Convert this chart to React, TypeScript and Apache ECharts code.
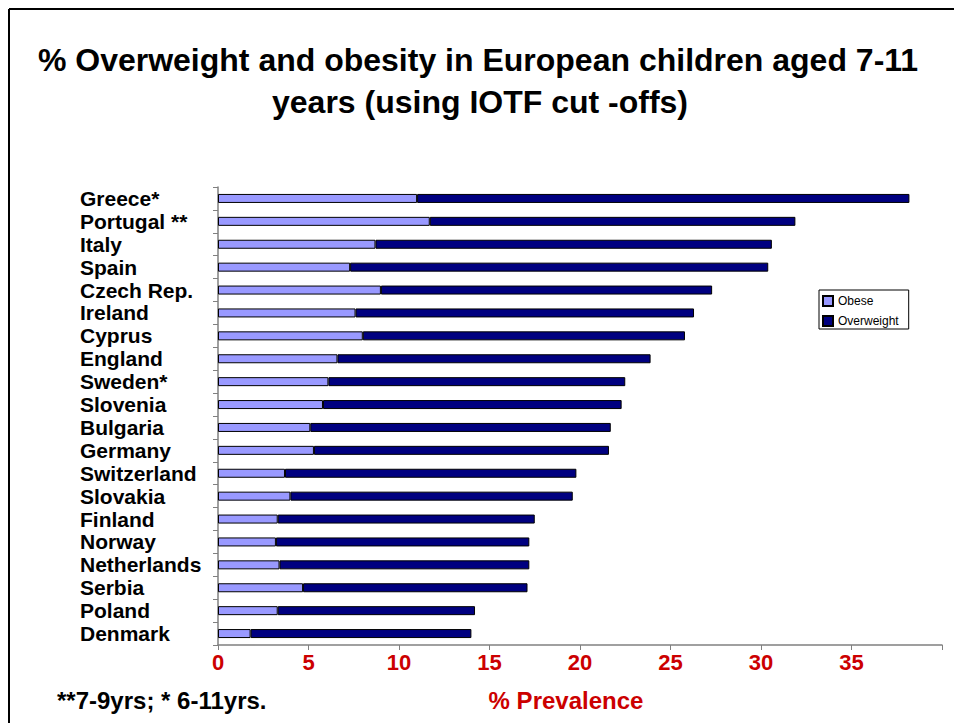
import React, { useEffect, useRef } from "react";
import * as echarts from "echarts";

const categories = [
  "Greece*", "Portugal **", "Italy", "Spain", "Czech Rep.", "Ireland", "Cyprus",
  "England", "Sweden*", "Slovenia", "Bulgaria", "Germany", "Switzerland", "Slovakia",
  "Finland", "Norway", "Netherlands", "Serbia", "Poland", "Denmark",
];
const obeseValues = [11.0, 11.7, 8.7, 7.3, 9.0, 7.6, 8.0, 6.6, 6.1, 5.8, 5.1, 5.3, 3.7, 4.0, 3.3, 3.2, 3.4, 4.7, 3.3, 1.8];
const totalValues = [38.2, 31.9, 30.6, 30.4, 27.3, 26.3, 25.8, 23.9, 22.5, 22.3, 21.7, 21.6, 19.8, 19.6, 17.5, 17.2, 17.2, 17.1, 14.2, 14.0];
const overweightValues = totalValues.map((t, i) => Math.round((t - obeseValues[i]) * 10) / 10);
const xTicks = [0, 5, 10, 15, 20, 25, 30, 35];

const titleLines = [
  "% Overweight and obesity in European children aged 7-11",
  "years (using IOTF cut -offs)",
];
const footnote = "**7-9yrs; * 6-11yrs.";
const axisTitle = "% Prevalence";

const FONT = "'Liberation Sans', Arial, sans-serif";

export default function App() {
  const ref = useRef<HTMLDivElement>(null);
  useEffect(() => {
    if (!ref.current) return;
    const chart = echarts.init(ref.current, null, { renderer: "svg" });
    chart.setOption({
      animation: false,
      backgroundColor: "#ffffff",
      grid: { left: 218, top: 187, right: 12, bottom: 78 },
      legend: {
        orient: "vertical",
        left: 819,
        top: 290,
        data: ["Obese", "Overweight"],
        itemWidth: 10,
        itemHeight: 10,
        itemGap: 8,
        itemTextGap: 4,
        padding: [5, 10, 2, 3],
        borderColor: "#000",
        borderWidth: 1,
        textStyle: { fontFamily: FONT, fontSize: 12, color: "#000" },
        icon: "rect",
      },
      xAxis: {
        type: "value",
        min: 0,
        max: 40,
        interval: 5,
        axisLine: { show: true, lineStyle: { color: "#808080", width: 1.5 } },
        axisTick: { show: true, length: 5, lineStyle: { color: "#808080" } },
        splitLine: { show: false },
        axisLabel: {
          margin: 6,
          color: "#cc0000",
          fontFamily: FONT,
          fontWeight: "bold",
          fontSize: 22,
          formatter: (v: number) => (xTicks.includes(v) ? String(v) : ""),
        },
      },
      yAxis: {
        type: "category",
        data: categories,
        inverse: true,
        axisLine: { show: true, lineStyle: { color: "#808080", width: 1.5 } },
        axisTick: { show: true, length: 5, lineStyle: { color: "#808080" } },
        axisLabel: {
          interval: 0,
          align: "left",
          margin: 138,
          color: "#000",
          fontFamily: FONT,
          fontWeight: "bold",
          fontSize: 21,
        },
      },
      series: [
        {
          name: "Obese",
          type: "bar",
          stack: "a",
          barWidth: 9,
          data: obeseValues,
          itemStyle: { color: "#9999ff", borderColor: "#000", borderWidth: 1 },
        },
        {
          name: "Overweight",
          type: "bar",
          stack: "a",
          barWidth: 9,
          data: overweightValues,
          itemStyle: { color: "#000080", borderColor: "#000", borderWidth: 1 },
        },
      ],
      graphic: [
        { type: "line", shape: { x1: 9, y1: 9, x2: 960, y2: 9 }, style: { stroke: "#000", lineWidth: 2 } },
        { type: "line", shape: { x1: 9, y1: 9, x2: 9, y2: 730 }, style: { stroke: "#000", lineWidth: 2 } },
        {
          type: "text",
          x: 478,
          y: 60,
          style: {
            text: titleLines[0],
            fontFamily: FONT,
            fontWeight: "bold",
            fontSize: 32,
            fill: "#000",
            textAlign: "center",
            textVerticalAlign: "middle",
          },
        },
        {
          type: "text",
          x: 480,
          y: 102,
          style: {
            text: titleLines[1],
            fontFamily: FONT,
            fontWeight: "bold",
            fontSize: 32,
            fill: "#000",
            textAlign: "center",
            textVerticalAlign: "middle",
          },
        },
        {
          type: "text",
          x: 57,
          y: 700,
          style: {
            text: footnote,
            fontFamily: FONT,
            fontWeight: "bold",
            fontSize: 24,
            fill: "#000",
            textAlign: "left",
            textVerticalAlign: "middle",
          },
        },
        {
          type: "text",
          x: 566,
          y: 700,
          style: {
            text: axisTitle,
            fontFamily: FONT,
            fontWeight: "bold",
            fontSize: 24,
            fill: "#cc0000",
            textAlign: "center",
            textVerticalAlign: "middle",
          },
        },
      ],
    });
    return () => chart.dispose();
  }, []);
  return (
    <div
      ref={ref}
      style={{ position: "fixed", left: 0, top: 0, width: 954, height: 723 }}
    />
  );
}
